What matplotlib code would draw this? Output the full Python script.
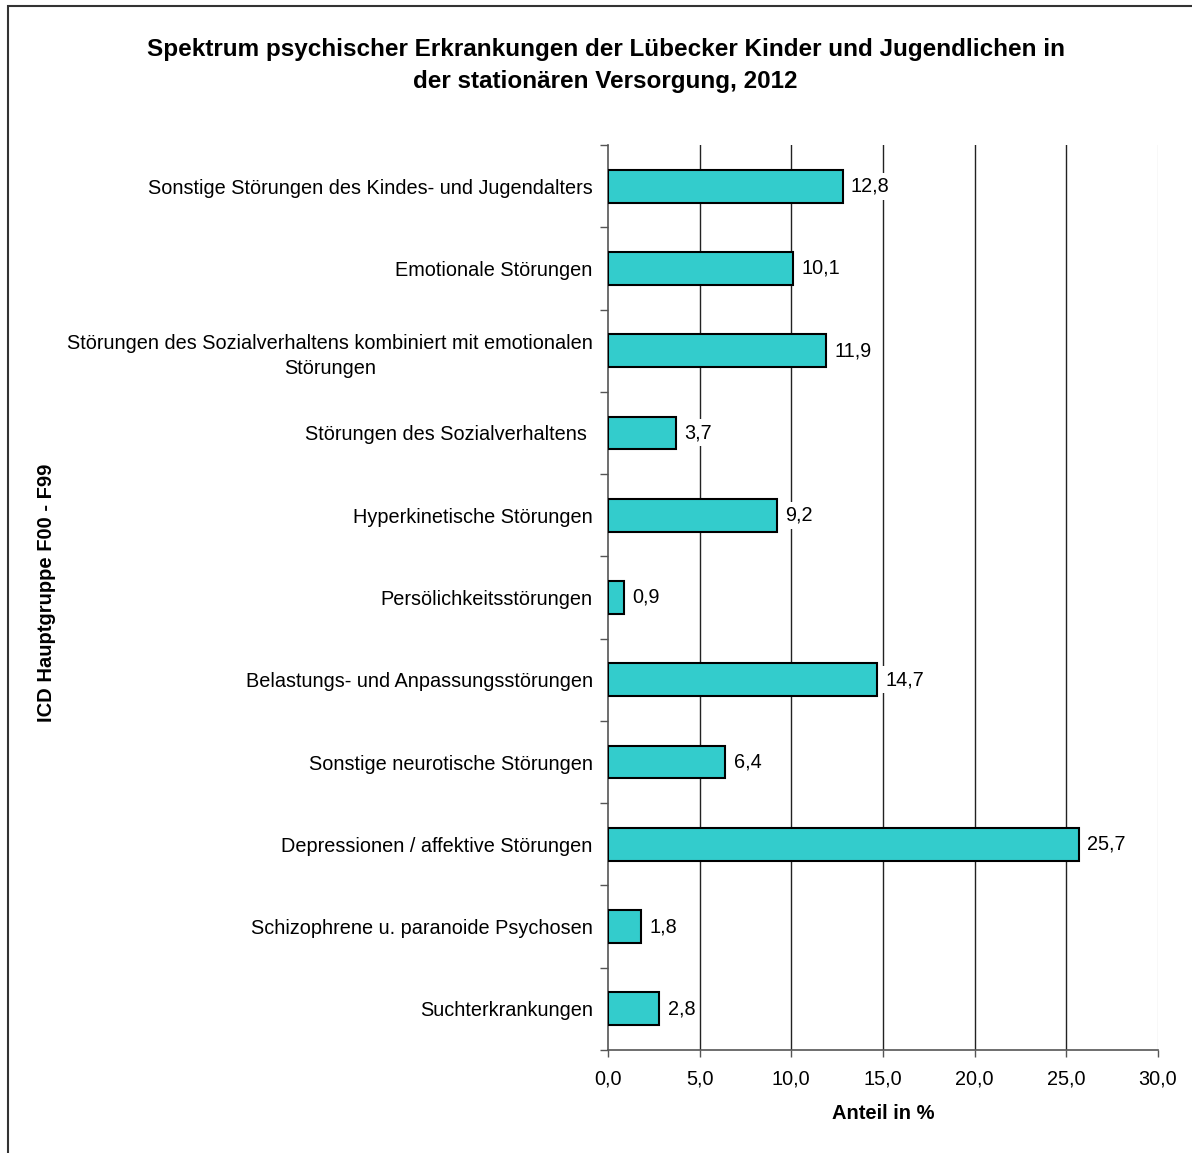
import matplotlib
matplotlib.use("Agg")
import matplotlib.pyplot as plt
from matplotlib.patches import Rectangle
from matplotlib.ticker import FixedLocator, FuncFormatter

plt.rcParams["font.family"] = ["Liberation Sans", "DejaVu Sans"]

# Diagnosegruppen von oben nach unten
kategorien = [
    "Sonstige Störungen des Kindes- und Jugendalters",
    "Emotionale Störungen",
    "Störungen des Sozialverhaltens kombiniert mit emotionalen\nStörungen",
    "Störungen des Sozialverhaltens ",
    "Hyperkinetische Störungen",
    "Persölichkeitsstörungen",
    "Belastungs- und Anpassungsstörungen",
    "Sonstige neurotische Störungen",
    "Depressionen / affektive Störungen",
    "Schizophrene u. paranoide Psychosen",
    "Suchterkrankungen",
]
anteile = [12.8, 10.1, 11.9, 3.7, 9.2, 0.9, 14.7, 6.4, 25.7, 1.8, 2.8]
x_ticks = [0, 5, 10, 15, 20, 25, 30]


def komma(v, pos=None):
    return f"{v:.1f}".replace(".", ",")


def main():
    fig = plt.figure(figsize=(11.92, 11.53), dpi=100)
    ax = fig.add_axes([0.510, 0.0894, 0.4615, 0.7848])

    pos = list(range(len(kategorien)))
    ax.barh(pos, anteile, height=0.4, color="#33CCCC", edgecolor="black",
            linewidth=1.5, zorder=3)

    # Werte mit weissem Hintergrund, damit die Gitterlinien nicht durchlaufen
    for y, v in zip(pos, anteile):
        ax.text(v + 0.45, y, komma(v), va="center", ha="left", fontsize=14.3,
                zorder=4, bbox={"boxstyle": "square,pad=0.2", "facecolor": "white",
                                "edgecolor": "none"})

    ax.set_ylim(len(kategorien) - 0.5, -0.5)
    ax.set_xlim(0, 30)

    ax.set_yticks(pos)
    ax.set_yticklabels(kategorien, fontsize=14.3, multialignment="center",
                       linespacing=1.45)
    ax.tick_params(axis="y", length=0, pad=11)
    ax.yaxis.set_minor_locator(FixedLocator([p - 0.5 for p in pos] + [len(pos) - 0.5]))
    ax.tick_params(axis="y", which="minor", length=6, width=1, color="#555555")

    ax.xaxis.set_major_locator(FixedLocator(x_ticks))
    ax.xaxis.set_major_formatter(FuncFormatter(komma))
    ax.tick_params(axis="x", length=5, width=1, color="#555555", labelsize=14.3, pad=9)

    for v in x_ticks[1:-1]:
        ax.axvline(v, color="#222222", linewidth=1.0, zorder=1)
    ax.axvline(30, color="#dddddd", linewidth=1.0, zorder=1)

    for side in ("top", "right"):
        ax.spines[side].set_visible(False)
    ax.spines["left"].set_color("#555555")
    ax.spines["bottom"].set_color("#555555")
    ax.spines["left"].set_linewidth(1.2)
    ax.spines["bottom"].set_linewidth(1.2)

    ax.set_xlabel("Anteil in %", fontsize=14.5, fontweight="bold", labelpad=11)
    fig.text(0.039, 0.486, "ICD Hauptgruppe F00 - F99", rotation=90,
             fontsize=14.5, fontweight="bold", ha="center", va="center")

    fig.text(0.508, 0.943,
             "Spektrum psychischer Erkrankungen der Lübecker Kinder und Jugendlichen in\n"
             "der stationären Versorgung, 2012",
             ha="center", va="center", fontsize=17.5, fontweight="bold",
             linespacing=1.5)

    # Rahmen um das Diagramm, rechts und unten abgeschnitten
    fig.add_artist(Rectangle((0.0067, -0.05), 1.1, 1.0448, transform=fig.transFigure,
                             fill=False, edgecolor="#333333", linewidth=1.5))

    fig.savefig("out.png", dpi=100)


if __name__ == "__main__":
    main()
